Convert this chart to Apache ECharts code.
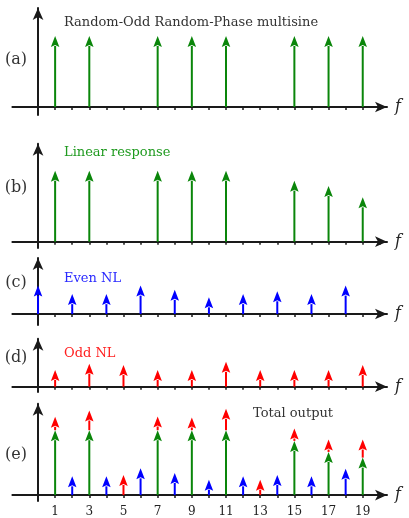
<!DOCTYPE html>
<html>
<head>
<meta charset="utf-8">
<script src="https://cdn.jsdelivr.net/npm/echarts@6/dist/echarts.min.js"></script>
<style>
  html, body { margin: 0; padding: 0; background: #fff; }
  #main { width: 409px; height: 518px; }
</style>
</head>
<body>
<div id="main"></div>
<script>
// excited (odd) lines of the multisine
var excitedLines = [1, 3, 7, 9, 11, 15, 17, 19]
var inputAmp = [1, 1, 1, 1, 1, 1, 1, 1]
var linearAmp = [1, 1, 1, 1, 1, 0.86, 0.785, 0.625]

// even nonlinear contributions (f = 0, 2, ..., 18)
var evenLines = [0, 2, 4, 6, 8, 10, 12, 14, 16, 18]
var evenAmp = [0.40, 0.28, 0.28, 0.40, 0.34, 0.235, 0.28, 0.32, 0.28, 0.40]

// odd nonlinear contributions (f = 1, 3, ..., 19)
var oddLines = [1, 3, 5, 7, 9, 11, 13, 15, 17, 19]
var oddAmp = [0.235, 0.325, 0.305, 0.235, 0.235, 0.35, 0.235, 0.235, 0.235, 0.305]

// total output (tips of the stacked arrows)
var totalLinear = [0.97, 0.97, 0.97, 0.97, 0.97, 0.81, 0.645, 0.56]
var totalOddTip = [1.17, 1.265, 0.30, 1.175, 1.16, 1.29, 0.23, 0.995, 0.83, 0.83]
var totalEvenLines = [2, 4, 6, 8, 10, 12, 14, 16, 18]
var totalEven = [0.28, 0.28, 0.40, 0.33, 0.23, 0.28, 0.30, 0.28, 0.395]

var tickValues = [1, 2, 3, 4, 5, 6, 7, 8, 9, 10, 11, 12, 13, 14, 15, 16, 17, 18, 19, 20]
var tickLabels = [1, 3, 5, 7, 9, 11, 13, 15, 17, 19]

var panelTags = ['(a)', '(b)', '(c)', '(d)', '(e)']
var panelNames = ['Random-Odd Random-Phase multisine', 'Linear response', 'Even NL', 'Odd NL', 'Total output']

var GREEN = '#0a860a'
var BLUE = '#0000ff'
var RED = '#ff0000'
var AXIS = '#1a1a1a'
var FONT = 'DejaVu Serif'

var PX = 71 // pixels per unit amplitude
// baseline y, room above (to arrow tip), room below
var panels = [
  { base: 107, up: 105, down: 8, tagY: 60, nameX: 64, nameY: 23, nameColor: '#333' },
  { base: 241.7, up: 104, down: 6.3, tagY: 188, nameX: 64, nameY: 153, nameColor: '#1f9a1f' },
  { base: 314, up: 62, down: 11, tagY: 283, nameX: 64, nameY: 279, nameColor: '#2a2aff' },
  { base: 386.7, up: 54, down: 5.3, tagY: 358, nameX: 64, nameY: 354, nameColor: '#ff2020' },
  { base: 500.7, up: 103, down: 6.3, tagY: 455, nameX: 253, nameY: 414, nameColor: '#333' }
]

function arrowRenderer (color) {
  return function (params, api) {
    var x = api.value(0)
    var p0 = api.coord([x, api.value(1)])
    var p1 = api.coord([x, api.value(2)])
    var headH = 11
    var headW = 8.5
    return {
      type: 'group',
      children: [
        {
          type: 'line',
          shape: { x1: p0[0], y1: p0[1], x2: p1[0], y2: p1[1] + headH - 1 },
          style: { stroke: color, lineWidth: 2 }
        },
        {
          type: 'polygon',
          shape: { points: [[p1[0], p1[1]], [p1[0] - headW / 2, p1[1] + headH], [p1[0], p1[1] + headH - 2], [p1[0] + headW / 2, p1[1] + headH]] },
          style: { fill: color }
        }
      ]
    }
  }
}

function arrows (lines, base, tips) {
  return lines.map(function (f, i) {
    return [f, Array.isArray(base) ? base[i] : base, tips[i]]
  })
}

var grids = []
var xAxes = []
var yAxes = []
panels.forEach(function (p, i) {
  grids.push({
    left: 12.4,
    right: 22,
    top: p.base - p.up + 6,
    height: p.up - 6 + p.down
  })
  xAxes.push({
    type: 'value',
    gridIndex: i,
    min: -1.5,
    max: 20.42,
    splitLine: { show: false },
    axisLine: {
      onZero: true,
      symbol: ['none', 'arrow'],
      symbolSize: [8, 12],
      lineStyle: { color: AXIS, width: 2 }
    },
    axisTick: {
      show: true,
      customValues: tickValues,
      length: 3,
      lineStyle: { color: AXIS, width: 1.5 }
    },
    axisLabel: {
      show: i === 4,
      customValues: tickLabels,
      margin: 5,
      color: '#222',
      fontFamily: FONT,
      fontSize: 12
    },
    name: 'f',
    nameLocation: 'end',
    nameGap: 8,
    nameTextStyle: {
      fontFamily: FONT,
      fontStyle: 'italic',
      fontSize: 16,
      color: '#222',
      padding: [6, 0, 0, 0]
    }
  })
  yAxes.push({
    type: 'value',
    gridIndex: i,
    min: -p.down / PX,
    max: (p.up - 6) / PX,
    splitLine: { show: false },
    axisTick: { show: false },
    axisLabel: { show: false },
    axisLine: {
      onZero: true,
      symbol: ['none', 'arrow'],
      symbolSize: [8, 12],
      lineStyle: { color: AXIS, width: 2 }
    }
  })
})

// red arrows in (e) sit on top of the green ones where a line is excited
var redBaseE = oddLines.map(function (f) {
  var k = excitedLines.indexOf(f)
  return k >= 0 ? totalLinear[k] : 0
})

var series = [
  { data: arrows(excitedLines, 0, inputAmp), idx: 0, color: GREEN },
  { data: arrows(excitedLines, 0, linearAmp), idx: 1, color: GREEN },
  { data: arrows(evenLines, 0, evenAmp), idx: 2, color: BLUE },
  { data: arrows(oddLines, 0, oddAmp), idx: 3, color: RED },
  { data: arrows(oddLines, redBaseE, totalOddTip), idx: 4, color: RED },
  { data: arrows(excitedLines, 0, totalLinear), idx: 4, color: GREEN },
  { data: arrows(totalEvenLines, 0, totalEven), idx: 4, color: BLUE }
].map(function (s) {
  return {
    type: 'custom',
    xAxisIndex: s.idx,
    yAxisIndex: s.idx,
    renderItem: arrowRenderer(s.color),
    data: s.data,
    silent: true,
    z: 3
  }
})

var graphics = []
panels.forEach(function (p, i) {
  graphics.push({
    type: 'text',
    x: 16,
    y: p.tagY,
    style: { text: panelTags[i], fill: '#333', font: '16px "' + FONT + '"', textAlign: 'center', textVerticalAlign: 'middle' }
  })
  graphics.push({
    type: 'text',
    x: p.nameX,
    y: p.nameY,
    style: { text: panelNames[i], fill: p.nameColor, font: '13px "' + FONT + '"', textAlign: 'left', textVerticalAlign: 'middle' }
  })
})

var myChart = echarts.init(document.getElementById('main'))
myChart.setOption({
  animation: false,
  grid: grids,
  xAxis: xAxes,
  yAxis: yAxes,
  series: series,
  graphic: graphics
})
</script>
</body>
</html>
